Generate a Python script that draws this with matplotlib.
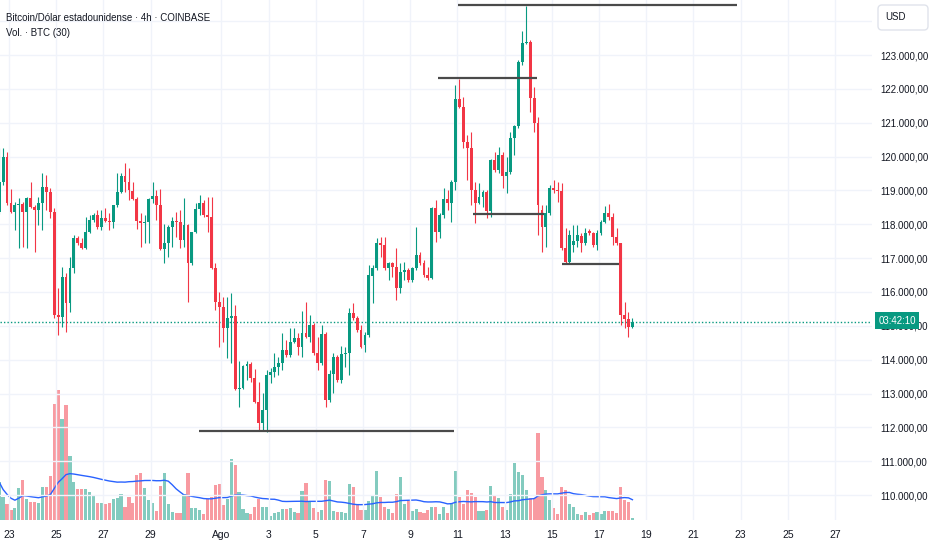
import numpy as np
import pandas as pd
import matplotlib.pyplot as plt
from matplotlib.patches import Rectangle, FancyBboxPatch
from matplotlib.transforms import IdentityTransform

plt.rcParams['font.family'] = ['Liberation Sans', 'DejaVu Sans']

# BTC/USD 4h candles, Coinbase
opens = [118362, 119248, 119987, 118628, 118362, 118569, 118599, 118362, 118776, 118510,
         118421, 118628, 119100, 118953, 118362, 115319, 115260, 116442, 115673, 116708,
         117594, 117446, 117299, 117771, 118126, 118273, 117919, 118185, 118096, 118067,
         118569, 118953, 119426, 119248, 118982, 118746, 118096, 118037, 118067, 118746,
         118835, 118569, 117269, 117446, 117919, 118096, 118067, 117535, 117978, 116855,
         117771, 118451, 118628, 118273, 118214, 116708, 115703, 115555, 114936, 115231,
         115290, 113133, 113163, 113813, 113872, 113458, 112749, 112128, 112513, 113546,
         113635, 113783, 113901, 114285, 114137, 114522, 114640, 114374, 114787, 114669,
         115024, 114196, 113901, 114758, 112808, 113576, 114078, 113399, 114167, 114196,
         115378, 115231, 114876, 114433, 114728, 116472, 116708, 117446, 117387, 116708,
         116855, 116737, 116117, 116590, 116649, 116353, 116708, 117092, 116855, 116501,
         116412, 118481, 117771, 118273, 118746, 118628, 119248, 121700, 121464, 120430,
         120253, 119012, 118628, 118805, 118953, 118392, 119898, 119603, 120046, 119426,
         119544, 120549, 120903, 122793, 123354, 123384, 121730, 120991, 118421, 117919,
         118332, 119071, 119012, 118982, 117299, 116885, 117387, 117505, 117653, 117446,
         117801, 117741, 117387, 117741, 118067, 118332, 118214, 117623, 117446, 115319,
         115201, 114965]
highs = [120253, 120253, 120135, 119041, 118658, 118776, 118658, 118805, 119248, 118569,
         118805, 119514, 119455, 119071, 118481, 116117, 116737, 116560, 117033, 117682,
         117653, 117594, 118214, 118273, 118332, 118421, 118421, 118481, 118332, 118569,
         119514, 119514, 119809, 119662, 119248, 118805, 118332, 118273, 118776, 119248,
         119012, 119041, 118008, 117978, 118214, 118362, 118421, 118776, 118008, 117771,
         118628, 118864, 118717, 118805, 118805, 116855, 115999, 115851, 115851, 115969,
         115614, 113960, 113842, 113960, 113931, 113724, 113340, 113015, 113694, 113754,
         114196, 114078, 114787, 114581, 114936, 114936, 114787, 115437, 115703, 115319,
         115083, 114669, 115024, 114817, 113694, 114196, 114137, 114404, 114374, 115526,
         115673, 115290, 115024, 114817, 116796, 116796, 117594, 117623, 117623, 116885,
         116885, 117299, 116855, 116885, 116708, 116737, 117919, 117181, 116944, 116737,
         118510, 118717, 118332, 119071, 119012, 119307, 122114, 122291, 121759, 120637,
         120726, 119248, 119219, 119012, 119012, 119928, 120135, 120282, 120135, 119987,
         120726, 120933, 122852, 123709, 124460, 123443, 122055, 121168, 118569, 118569,
         119159, 119307, 119248, 119219, 117890, 117830, 117978, 117978, 117741, 117890,
         117860, 117771, 117830, 118126, 118540, 118599, 118332, 117890, 117446, 115703,
         115408, 115231]
lows = [118303, 119159, 118569, 118332, 117830, 117299, 117328, 117299, 118481, 117181,
        117978, 117830, 118421, 118185, 115231, 114728, 114965, 114817, 115408, 116560,
        117387, 117269, 117269, 117741, 118067, 117860, 117830, 118067, 117830, 117890,
        118510, 118923, 118953, 118717, 118717, 117860, 117328, 117446, 117446, 118628,
        118126, 117240, 116855, 117033, 117328, 117623, 117299, 117328, 115703, 116796,
        117741, 118273, 118214, 117771, 116678, 115467, 114374, 114522, 114049, 113901,
        113104, 112601, 113133, 113399, 113340, 112719, 111922, 111922, 111863, 113310,
        113487, 113546, 113694, 114078, 114078, 114492, 114137, 114078, 114640, 114522,
        114137, 113694, 113842, 112601, 112749, 113015, 113340, 113310, 113783, 113546,
        115172, 114817, 114345, 114226, 114669, 115673, 116649, 117033, 116649, 116353,
        116442, 115762, 115969, 116353, 116294, 116294, 116649, 116796, 116442, 116353,
        116383, 117476, 117594, 118185, 118421, 118067, 119012, 121435, 120253, 119307,
        118569, 118037, 118599, 118510, 118185, 118214, 119544, 119514, 119071, 118923,
        119485, 120046, 120844, 122705, 123325, 121316, 120726, 117682, 117181, 117328,
        118273, 118923, 118658, 117240, 116855, 116855, 117181, 117328, 117181, 117387,
        117682, 117328, 117240, 117682, 118037, 118126, 117387, 117387, 115024, 114936,
        114669, 114936]
closes = [119248, 119987, 118628, 118362, 118569, 118599, 118362, 118776, 118510, 118421,
          118628, 119100, 118953, 118362, 115319, 115260, 116442, 115673, 116708, 117594,
          117446, 117299, 117771, 118126, 118273, 117919, 118185, 118096, 118067, 118569,
          118953, 119426, 119248, 119012, 118746, 118096, 118037, 118067, 118746, 118835,
          118569, 117269, 117446, 117919, 118096, 118067, 117535, 117978, 116855, 117771,
          118451, 118628, 118273, 118214, 116708, 115703, 115555, 114936, 115231, 115290,
          113133, 113163, 113813, 113872, 113458, 112749, 112128, 112513, 113546, 113635,
          113783, 113901, 114285, 114137, 114522, 114640, 114374, 114787, 114669, 115024,
          114196, 113901, 114758, 112808, 113576, 114078, 113399, 114167, 114196, 115378,
          115231, 114876, 114374, 114728, 116501, 116708, 117446, 117387, 116708, 116855,
          116737, 116117, 116590, 116649, 116353, 116708, 117092, 116855, 116501, 116412,
          118481, 117771, 118273, 118746, 118628, 119248, 121700, 121464, 120430, 120253,
          119012, 118628, 118805, 118953, 118392, 119898, 119603, 120046, 119426, 119544,
          120549, 120903, 122793, 123354, 123384, 121730, 120991, 118569, 117919, 118332,
          119071, 119012, 118982, 117299, 116885, 117682, 117505, 117682, 117446, 117741,
          117741, 117387, 117741, 118067, 118332, 118214, 117623, 117446, 115319, 115201,
          114965, 115120]
# volume in BTC
volumes = [1140, 690, 480, 300, 360, 960, 1200, 630, 540, 540,
           510, 990, 990, 1320, 3480, 3900, 3030, 3450, 1920, 1140,
           930, 930, 930, 840, 720, 510, 510, 480, 510, 630,
           660, 780, 390, 690, 510, 1350, 1410, 960, 600, 510,
           270, 1020, 1410, 480, 240, 210, 210, 780, 1410, 360,
           360, 300, 180, 630, 690, 1050, 1080, 450, 630, 1830,
           1650, 840, 330, 210, 180, 390, 630, 390, 390, 120,
           210, 240, 330, 330, 360, 240, 210, 870, 1110, 540,
           360, 240, 300, 1200, 1170, 270, 240, 240, 210, 1080,
           990, 450, 300, 300, 570, 750, 1470, 690, 390, 330,
           210, 780, 1290, 480, 570, 270, 330, 240, 210, 300,
           390, 390, 180, 390, 210, 480, 1470, 690, 480, 900,
           810, 690, 270, 270, 300, 1020, 720, 660, 390, 300,
           780, 1710, 1440, 1350, 900, 660, 660, 2610, 1290, 900,
           600, 360, 180, 990, 900, 480, 390, 180, 150, 240,
           150, 210, 240, 180, 270, 270, 270, 210, 990, 600,
           540, 60]

first_bar = '2025-07-22 14:00'
ref_day = pd.Timestamp('2025-07-23')

tick_dates = ['2025-07-23', '2025-07-25', '2025-07-27', '2025-07-29', '2025-08-01',
              '2025-08-03', '2025-08-05', '2025-08-07', '2025-08-09', '2025-08-11',
              '2025-08-13', '2025-08-15', '2025-08-17', '2025-08-19', '2025-08-21',
              '2025-08-23', '2025-08-25', '2025-08-27']
tick_labels = ['23', '25', '27', '29', 'Ago', '3', '5', '7', '9', '11',
               '13', '15', '17', '19', '21', '23', '25', '27']

# drawn horizontal levels: price, from, to
level_prices = [124477, 122320, 118303, 116826, 111892]
level_from = ['2025-08-11 01:00', '2025-08-10 04:00', '2025-08-11 16:00',
              '2025-08-15 10:00', '2025-07-31 01:00']
level_to = ['2025-08-22 20:00', '2025-08-14 09:00', '2025-08-14 16:00',
            '2025-08-17 20:00', '2025-08-10 21:00']

countdown = '03:42:10'

UP = '#089981'
DOWN = '#f23645'
TXT = '#131722'

def to_days(ts):
    return (pd.to_datetime(ts) - ref_day) / pd.Timedelta(days=1)

def fmt_price(p):
    # 123000 -> 123.000,00
    return f'{p:,.2f}'.replace(',', 'X').replace('.', ',').replace('X', '.')

o = np.array(opens, dtype=float)
h = np.array(highs, dtype=float)
l = np.array(lows, dtype=float)
c = np.array(closes, dtype=float)
v = np.array(volumes, dtype=float)
times = pd.date_range(first_bar, periods=len(c), freq='4h')
x = np.asarray(to_days(times))
up = c >= o
cols = np.where(up, UP, DOWN)

fig = plt.figure(figsize=(9.32, 5.5), dpi=100)
ax = fig.add_axes([0, 30/550, 872/932, 520/550])
ax2 = ax.twinx()
ax.set_zorder(ax2.get_zorder() + 1)
ax.patch.set_visible(False)

# volume overlay
ax2.bar(x, v, width=0.135, color=cols, alpha=0.5, linewidth=0)
vol_ma = pd.Series(v).rolling(30, min_periods=1).mean()
ax2.plot(x, vol_ma, color='#2962ff', lw=1)
ax2.set_ylim(0, 15600)
ax2.set_yticks([])

# candles
ax.vlines(x, l, h, colors=cols, lw=0.8, zorder=3)
body = np.maximum(np.abs(c - o), 15)
ax.bar(x, body, bottom=np.minimum(o, c), width=0.12, color=cols, linewidth=0, zorder=4)

ax.hlines(level_prices, to_days(level_from), to_days(level_to),
          colors='#4a4a4a', lw=1.6, zorder=5)
ax.axhline(c[-1], color=UP, ls=(0, (1, 1.5)), lw=1, zorder=2)

ax.set_xlim(-0.381, 36.568)
ax.set_ylim(109263, 124625)

price_ticks = np.arange(110000, 125000, 1000)
ax.set_yticks(price_ticks)
# the top label sits under the USD box
ax.set_yticklabels([fmt_price(p) if p < 124000 else '' for p in price_ticks])
ax.yaxis.tick_right()
ax.set_xticks(to_days(tick_dates))
ax.set_xticklabels(tick_labels)
ax.tick_params(axis='y', length=0, pad=6, labelsize=7, labelcolor=TXT)
ax.tick_params(axis='x', length=0, pad=7, labelsize=7.5, labelcolor=TXT)
ax.grid(color='#f0f3fa', lw=1, zorder=0)
for a in (ax, ax2):
    for s in a.spines.values():
        s.set_visible(False)

# header text
fig.text(6/932, 1 - 18/550, 'Bitcoin/Dólar estadounidense · 4h · COINBASE',
         va='center', ha='left', fontsize=7, color=TXT)
fig.text(6/932, 1 - 33/550, 'Vol. · BTC (30)', va='center', ha='left',
         fontsize=7, color=TXT)

# currency box
usd_box = FancyBboxPatch((878, 550 - 30), 50, 25, boxstyle='round,pad=0,rounding_size=4',
                         transform=IdentityTransform(), fc='white', ec='#e0e3eb', lw=1, zorder=10)
fig.add_artist(usd_box)
fig.text(885/932, 1 - 17.5/550, 'USD', va='center', ha='left', fontsize=7,
         color=TXT, zorder=11)

# countdown label over the last price
cd = Rectangle((875, 550 - 329), 44, 17, transform=IdentityTransform(),
               fc=UP, ec='none', zorder=10)
fig.add_artist(cd)
fig.text(897/932, 1 - 320.5/550, countdown, va='center', ha='center', fontsize=7,
         color='white', zorder=11)

fig.savefig('out.png', dpi=100)
